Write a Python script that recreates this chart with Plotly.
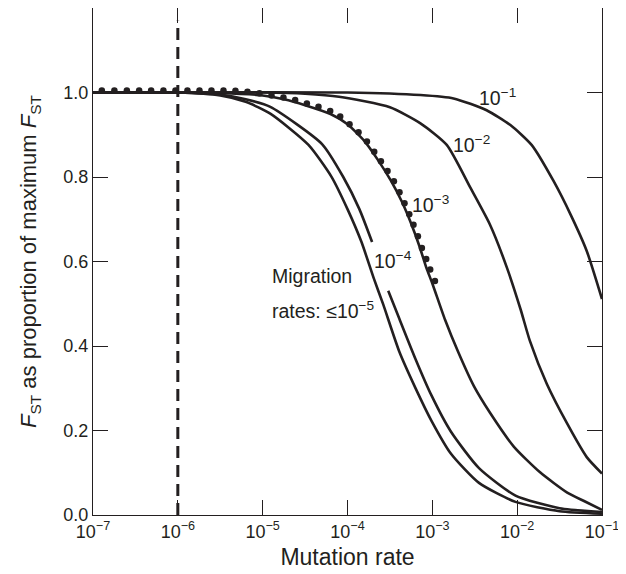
import plotly.graph_objects as go

# ---- data (x given as log10 of mutation rate, y as F_ST proportion of max) ----
mig5_exp = [-7, -6, -5.5, -5.2, -4.91, -4.46, -4.19, -4.0, -3.835, -3.69, -3.58, -3.39,
            -3.2, -3.01, -2.78, -2.45, -2.02, -1.5, -1.0]
mig5_val = [1.0, 1.0, 0.993, 0.978, 0.950, 0.876, 0.801, 0.724, 0.646, 0.560, 0.499, 0.387,
            0.301, 0.223, 0.145, 0.076, 0.031, 0.009, 0.003]

mig4_exp = [-7, -6, -5.5, -5.2, -4.91, -4.3, -4.05, -3.86, -3.71, None,
            -3.52, -3.39, -3.2, -3.01, -2.78, -2.45, -2.02, -1.5, -1.0]
mig4_val = [1.0, 1.0, 0.995, 0.984, 0.966, 0.878, 0.80, 0.724, 0.646, None,
            0.531, 0.465, 0.370, 0.283, 0.197, 0.111, 0.046, 0.016, 0.007]

mig3_exp = [-7, -6, -5.5, -5.0, -4.75, -4.5, -4.2, -4.0, -3.8, -3.64, -3.49, -3.36, -3.25,
            -3.15, -3.07, -3.0, -2.85, -2.7, -2.51, -2.32, -2.04, -1.73, -1.41, -1.2, -1.0]
mig3_val = [1.0, 1.0, 0.999, 0.993, 0.984, 0.970, 0.949, 0.925, 0.885, 0.840, 0.792, 0.742, 0.69,
            0.635, 0.585, 0.548, 0.462, 0.388, 0.305, 0.242, 0.162, 0.101, 0.053, 0.032, 0.012]

mig2_exp = [-7, -5, -4.5, -4.1, -3.5, -3.14, -2.83, -2.55, -2.32, -2.12, -1.96, -1.85,
            -1.65, -1.41, -1.18, -1.0]
mig2_val = [1.0, 1.0, 0.997, 0.99, 0.965, 0.927, 0.876, 0.774, 0.687, 0.585, 0.487, 0.412,
            0.31, 0.216, 0.137, 0.098]

mig1_exp = [-7, -4, -3.14, -2.75, -2.36, -2.08, -1.83, -1.57, -1.37, -1.18, -1.0]
mig1_val = [1.0, 1.0, 0.994, 0.986, 0.958, 0.923, 0.876, 0.79, 0.711, 0.625, 0.511]

dots_exp = [-6.896, -6.748, -6.601, -6.456, -6.315, -6.170, -6.028, -5.887, -5.745, -5.604,
            -5.462, -5.321, -5.179, -5.038, -4.896, -4.755, -4.617, -4.479, -4.342, -4.204,
            -4.086, -3.976, -3.870, -3.771, -3.685, -3.606, -3.528, -3.453, -3.387, -3.328,
            -3.272, -3.222, -3.170, -3.123, -3.072, -3.025, -2.969]
dots_val = [1.005, 1.005, 1.005, 1.005, 1.005, 1.005, 1.005, 1.005, 1.005, 1.005,
            1.005, 1.004, 1.002, 0.998, 0.993, 0.988, 0.982, 0.974, 0.966, 0.956,
            0.943, 0.925, 0.906, 0.884, 0.860, 0.837, 0.814, 0.790, 0.764, 0.738,
            0.712, 0.687, 0.660, 0.632, 0.606, 0.581, 0.554]

dashed_x = [1e-6, 1e-6]
dashed_y = [0.0, 1.17]

x_tick_exp = [-7, -6, -5, -4, -3, -2, -1]
y_ticks = [0.0, 0.2, 0.4, 0.6, 0.8, 1.0]

INK = "#231f20"
FONT = "Liberation Sans, Arial, sans-serif"


def to_rate(exps):
    return [None if e is None else 10 ** e for e in exps]


fig = go.Figure()
for ex, va in [(mig5_exp, mig5_val), (mig4_exp, mig4_val), (mig3_exp, mig3_val),
               (mig2_exp, mig2_val), (mig1_exp, mig1_val)]:
    fig.add_trace(go.Scatter(x=to_rate(ex), y=va, mode="lines",
                             line=dict(color=INK, width=2.6, shape="spline", smoothing=0.6),
                             connectgaps=False, showlegend=False, hoverinfo="skip"))

fig.add_trace(go.Scatter(x=to_rate(dots_exp), y=dots_val, mode="markers",
                         marker=dict(color=INK, size=6.5), showlegend=False, hoverinfo="skip"))

fig.add_trace(go.Scatter(x=dashed_x, y=dashed_y, mode="lines",
                         line=dict(color=INK, width=3, dash="12px,7px"),
                         showlegend=False, hoverinfo="skip"))

labels = [
    (-2.235, 0.99, "10<sup>−1</sup>", "center"),
    (-2.541, 0.879, "10<sup>−2</sup>", "center"),
    (-3.019, 0.735, "10<sup>−3</sup>", "center"),
    (-3.461, 0.603, "10<sup>−4</sup>", "center"),
    (-4.912, 0.566, "Migration", "left"),
    (-4.912, 0.486, "rates: ≤10<sup>−5</sup>", "left"),
]
for lx, ly, txt, xa in labels:
    fig.add_annotation(x=lx, y=ly, xref="x", yref="y", text=txt, showarrow=False,
                       xanchor=xa, yanchor="middle", font=dict(family=FONT, size=19.5, color=INK))

# page body adds an 8px offset, so the figure is sized/margined to compensate
fig.update_layout(
    width=618, height=566,
    margin=dict(l=85, r=24, t=0, b=59),
    paper_bgcolor="white", plot_bgcolor="white",
    font=dict(family=FONT, color=INK),
)
fig.update_xaxes(
    type="log", range=[-7, -1],
    tickvals=[10 ** e for e in x_tick_exp],
    ticktext=["10<sup>−%d</sup>" % (-e) for e in x_tick_exp],
    ticks="inside", ticklen=15, tickwidth=1.3, tickcolor=INK,
    showline=True, linecolor=INK, linewidth=1.3, mirror="ticks",
    showgrid=False, zeroline=False,
    tickfont=dict(family=FONT, size=18, color=INK),
    title=dict(text="Mutation rate", font=dict(family=FONT, size=23, color=INK), standoff=8),
)
fig.update_yaxes(
    range=[0, 1.2],
    tickvals=y_ticks, ticktext=["%.1f" % v for v in y_ticks],
    ticks="inside", ticklen=15, tickwidth=1.3, tickcolor=INK,
    showline=True, linecolor=INK, linewidth=1.3, mirror="ticks",
    showgrid=False, zeroline=False,
    tickfont=dict(family=FONT, size=18, color=INK),
    title=dict(text="<i>F</i><sub>ST</sub> as proportion of maximum <i>F</i><sub>ST</sub>",
               font=dict(family=FONT, size=22, color=INK), standoff=20),
)

fig.write_html("out.html")
